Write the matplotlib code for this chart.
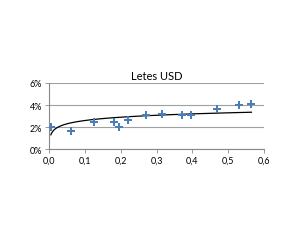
import numpy as np
import matplotlib
matplotlib.use("Agg")
import matplotlib.pyplot as plt
from matplotlib.ticker import FuncFormatter

x_vals = [0.005, 0.06, 0.125, 0.18, 0.195, 0.22, 0.27, 0.315, 0.37, 0.395, 0.47, 0.53, 0.565]
y_vals = [2.0, 1.65, 2.5, 2.5, 2.0, 2.65, 3.1, 3.2, 3.1, 3.05, 3.6, 4.0, 4.05]
title = "Letes USD"

plt.rcParams['font.family'] = ['Lato', 'DejaVu Sans']
fig = plt.figure(figsize=(2.92, 2.53), dpi=100)
ax = fig.add_axes([0.168, 0.407, 0.736, 0.261])

ax.plot(x_vals, y_vals, linestyle="none", marker="P", markersize=6,
        color="#4a7ebb", markeredgewidth=0, zorder=3)

# logarithmic trendline fitted from data
b, a = np.polyfit(np.log(x_vals), y_vals, 1)
xt = np.linspace(min(x_vals), max(x_vals), 300)
ax.plot(xt, a + b * np.log(xt), color="black", linewidth=0.9, zorder=2)

ax.set_xlim(0, 0.6)
ax.set_ylim(0, 6)
ax.set_xticks(np.arange(0, 0.61, 0.1))
ax.set_yticks([0, 2, 4, 6])
ax.xaxis.set_major_formatter(FuncFormatter(lambda v, p: f"{v:.1f}".replace(".", ",")))
ax.yaxis.set_major_formatter(FuncFormatter(lambda v, p: f"{v:.0f}%"))
ax.yaxis.grid(True, color="#a0a0a0", linewidth=0.8)
ax.set_axisbelow(True)
for s in ["top", "right"]:
    ax.spines[s].set_visible(False)
for s in ["left", "bottom"]:
    ax.spines[s].set_color("#888888")
    ax.spines[s].set_linewidth(0.8)
ax.tick_params(axis="both", labelsize=6.5, length=3, width=0.6, color="#888888", pad=2)
ax.set_title(title, fontsize=8, pad=3)

fig.savefig("out.png", dpi=100)
